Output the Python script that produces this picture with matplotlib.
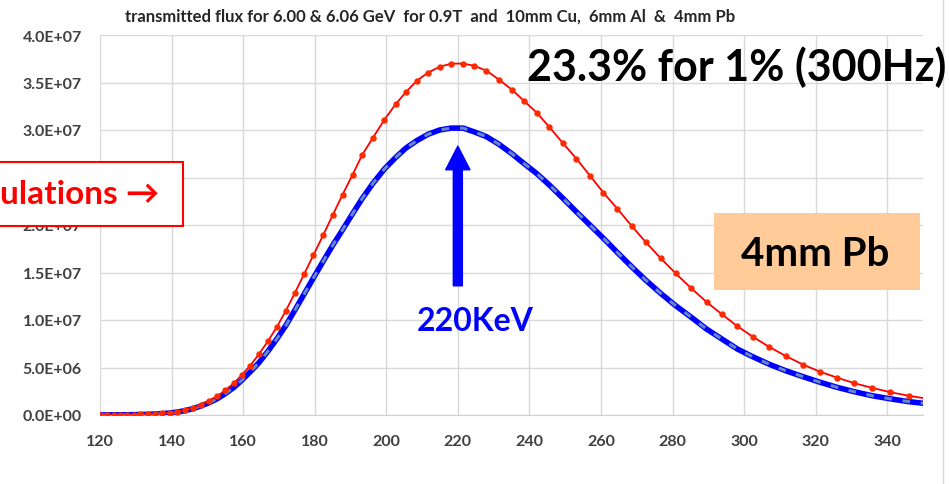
import numpy as np
import matplotlib.pyplot as plt
from matplotlib.patches import Rectangle
from matplotlib.lines import Line2D

plt.rcParams['font.family'] = ['Lato', 'DejaVu Sans']

# photon energy (keV) of each computed point
energy = [120.0, 121.9, 123.8, 125.6, 127.5, 129.4,
          131.2, 133.3, 135.3, 137.4, 139.5, 141.6, 143.8, 146.0, 148.2, 150.5,
          152.8, 155.0, 157.4, 159.6, 162.0, 164.4, 166.9, 169.4, 171.9, 174.4,
          177.0, 179.6, 182.4, 185.1, 187.8, 190.6, 193.3, 196.3, 199.5,
          202.6, 205.5, 208.6, 211.7, 214.9, 218.1, 221.5, 224.6, 228.0, 231.5, 235.1, 238.4,
          242.1, 245.6, 249.4, 253.1, 256.9, 260.7, 264.6, 268.6, 272.5, 276.7,
          280.9, 285.2, 289.5, 293.8, 298.1, 302.6, 307.1, 311.7, 316.5, 321.2,
          326.0, 330.8, 335.8, 340.9, 346.1, 351.4]

# transmitted flux, in units of 1e6
flux_upper = [0.01, 0.015, 0.02, 0.025, 0.03, 0.045,
              0.06, 0.08, 0.11, 0.16, 0.24, 0.36, 0.53, 0.78, 1.1, 1.5,
              2.0, 2.6, 3.35, 4.2, 5.2, 6.4, 7.75, 9.25, 10.95, 12.8,
              14.8, 16.8, 18.95, 21.1, 23.2, 25.3, 27.4, 29.2, 31.1,
              32.7, 34.0, 35.2, 36.05, 36.65, 36.98, 37.0, 36.75, 36.25, 35.3, 34.25, 33.1,
              31.8, 30.3, 28.6, 27.0, 25.2, 23.4, 21.7, 19.9, 18.2, 16.5,
              14.9, 13.35, 11.9, 10.6, 9.35, 8.2, 7.15, 6.2, 5.3, 4.56,
              3.93, 3.35, 2.85, 2.4, 2.02, 1.7]

flux_lower = [0.01, 0.012, 0.015, 0.02, 0.025, 0.035,
              0.05, 0.07, 0.1, 0.14, 0.21, 0.31, 0.46, 0.67, 0.95, 1.3,
              1.72, 2.25, 2.9, 3.65, 4.55, 5.5, 6.7, 8.0, 9.4, 11.0,
              12.7, 14.4, 16.2, 17.9, 19.5, 21.2, 22.8, 24.4, 25.9,
              27.1, 28.1, 28.9, 29.55, 30.0, 30.2, 30.2, 29.8, 29.3, 28.5, 27.5, 26.5,
              25.4, 24.2, 22.8, 21.4, 20.0, 18.6, 17.1, 15.6, 14.2, 12.8,
              11.5, 10.3, 9.05, 8.0, 6.95, 6.1, 5.33, 4.65, 4.03, 3.45,
              2.91, 2.45, 2.03, 1.7, 1.4, 1.18]

x_ticks = [120, 140, 160, 180, 200, 220, 240, 260, 280, 300, 320, 340]
x_ticklabels = ['120', '140', '160', '180', '200', '220', '240', '260', '280', '300', '320', '340']
y_ticks = [0, 5e6, 1e7, 1.5e7, 2e7, 2.5e7, 3e7, 3.5e7, 4e7]
y_ticklabels = ['0.0E+00', '5.0E+06', '1.0E+07', '1.5E+07', '2.0E+07',
                '2.5E+07', '3.0E+07', '3.5E+07', '4.0E+07']

peak_energy = 220
title = 'transmitted flux for 6.00 & 6.06 GeV  for 0.9T  and  10mm Cu,  6mm Al  &  4mm Pb'

W, H = 949, 485
fig = plt.figure(figsize=(W / 100, H / 100), dpi=100)
ax = fig.add_axes([100 / W, 1 - 416 / H, 823 / W, 380 / H])

y_lo = np.array(flux_lower) * 1e6
y_hi = np.array(flux_upper) * 1e6

ax.plot(energy, y_lo, color='#0000ff', lw=4.0, solid_joinstyle='round', zorder=3)
ax.plot(energy, y_lo, color='#6688c4', lw=2.2, dashes=(2.5, 3.5), zorder=4)
ax.plot(energy, y_hi, color='#ff0000', lw=1.3, marker='o', ms=3.6,
        mfc='#ff2a00', mec='#ff2a00', zorder=5)

ax.set_xlim(120, 350)
ax.set_ylim(0, 4e7)
ax.set_xticks(x_ticks)
ax.set_xticklabels(x_ticklabels)
ax.set_yticks(y_ticks)
ax.set_yticklabels(y_ticklabels)
ax.grid(True, color='#d9d9d9', lw=1)
ax.set_axisbelow(True)
for s in ['top', 'right', 'left']:
    ax.spines[s].set_visible(False)
ax.spines['bottom'].set_color('#d0d0d0')
ax.tick_params(length=0, labelsize=11.5, labelcolor='#404040')
ax.tick_params(axis='x', pad=14)
ax.tick_params(axis='y', pad=13)
for lab in ax.get_xticklabels() + ax.get_yticklabels():
    lab.set_fontweight('bold')

# arrow at the peak
ax.annotate('', xy=(peak_energy, 2.83e7), xytext=(peak_energy, 1.36e7),
            arrowprops=dict(arrowstyle='simple,head_length=1.7,head_width=1.75,tail_width=0.65',
                            mutation_scale=10, color='#0000ff', shrinkA=0, shrinkB=0))

fig.text(125 / W, 1 - 17 / H, title, fontsize=12, fontweight='bold',
         color='#262626', ha='left', va='center')
fig.text(527 / W, 1 - 67 / H, '23.3% for 1% (300Hz)', fontsize=31,
         fontweight='bold', color='black', ha='left', va='center')
fig.text(475 / W, 1 - 322 / H, '220KeV', fontsize=23, fontweight='bold',
         color='#0000ff', ha='center', va='center')

fig.add_artist(Rectangle((714 / W, 1 - 291 / H), 206 / W, 77 / H,
                         transform=fig.transFigure, fc='#ffcc99', ec='none'))
fig.text(815 / W, 1 - 254 / H, '4mm Pb', fontsize=29, fontweight='bold',
         color='black', ha='center', va='center')

fig.add_artist(Rectangle((-5 / W, 1 - 227 / H), 188 / W, 64 / H,
                         transform=fig.transFigure, fc='white', ec='#ff0000', lw=1.5))
fig.text(0, 1 - 195 / H, 'ulations \u2192', fontsize=24, fontweight='bold',
         color='#ff0000', ha='left', va='center')

fig.add_artist(Line2D([943 / W, 943 / W], [0, 1], transform=fig.transFigure,
                      color='#d9d9d9', lw=1))

fig.savefig('out.png', dpi=100)
